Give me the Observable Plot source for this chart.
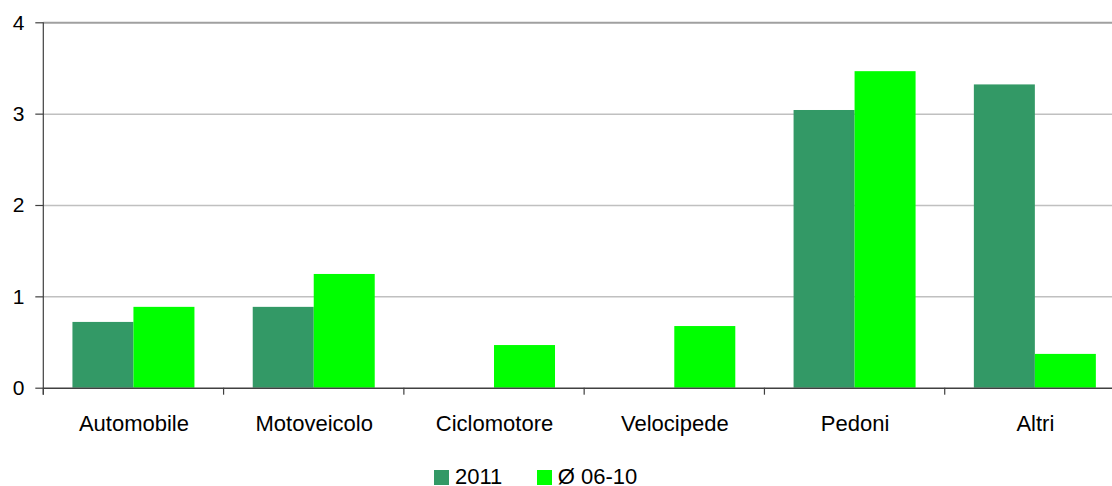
<!DOCTYPE html>
<html>
<head>
<meta charset="utf-8">
<script src="https://cdn.jsdelivr.net/npm/d3@7"></script>
<script src="https://cdn.jsdelivr.net/npm/@observablehq/plot@0.6"></script>
<style>
  html, body { margin: 0; padding: 0; background: #fff; overflow: hidden; }
  body { width: 1112px; height: 486px; font-family: "Liberation Sans", Arial, sans-serif; }
  #legend { position: relative; width: 1112px; height: 31px; }
  #legend .sw { position: absolute; top: 15px; width: 15px; height: 15px; }
  #legend .lb { position: absolute; top: 12.5px; font-size: 22px; line-height: 18px; color: #000; white-space: nowrap; }
</style>
</head>
<body>
<div id="chart"></div>
<div id="legend"></div>
<script>
const categories = ["Automobile", "Motoveicolo", "Ciclomotore", "Velocipede", "Pedoni", "Altri"];
const seriesNames = ["2011", "Ø 06-10"];
const values2011 = [0.72, 0.885, 0, 0, 3.04, 3.32];
const valuesAvg = [0.885, 1.245, 0.467, 0.675, 3.465, 0.37];
const yTicks = [0, 1, 2, 3, 4];
const colors = ["#339966", "#00ff00"];

const W = 1112, H = 455;
const mL = 43.3, mT = 22.3, mB = 67.3, plotRight = 1125;
const step = (plotRight - mL) / categories.length;
const barW = 61;
const outer = (step - 2 * barW) / 2;

const d2011 = categories.map((c, i) => ({cat: c, v: values2011[i]}));
const dAvg = categories.map((c, i) => ({cat: c, v: valuesAvg[i]}));

const plot = Plot.plot({
  width: W,
  height: H,
  marginLeft: mL,
  marginRight: W - plotRight,
  marginTop: mT,
  marginBottom: mB,
  style: {fontFamily: "'Liberation Sans', Arial, sans-serif", color: "#000", background: "#fff", overflow: "hidden"},
  x: {type: "band", domain: categories, padding: 0, round: false, axis: null, label: null},
  y: {domain: [0, 4], axis: null, label: null},
  marks: [
    Plot.ruleY([1, 2, 3], {stroke: "#c0c0c0", strokeWidth: 1.5}),
    Plot.ruleY([4], {stroke: "#a0a0a0", strokeWidth: 2}),
    Plot.barY(d2011, {x: "cat", y: "v", fill: colors[0], insetLeft: outer, insetRight: outer + barW}),
    Plot.barY(dAvg, {x: "cat", y: "v", fill: colors[1], insetLeft: outer + barW, insetRight: outer}),
    Plot.ruleY([0], {stroke: "#404040", strokeWidth: 1.5}),
    // category boundary ticks below the baseline
    Plot.barY(categories, {x: d => d, y1: 0, y2: 0, insetBottom: -7, insetLeft: -0.6, insetRight: step - 0.6, fill: "#404040"}),
    // vertical axis line
    Plot.barY([categories[0]], {x: d => d, y1: 0, y2: 4, insetBottom: -7, insetLeft: -0.6, insetRight: step - 0.6, fill: "#404040"}),
    Plot.axisY(yTicks, {tickSize: 8, tickPadding: 11.3, fontSize: 21, stroke: "#404040", strokeWidth: 1.2, fill: "#000", tickFormat: d3.format("d"), label: null}),
    Plot.axisX({tickSize: 0, tickPadding: 26.7, fontSize: 22, fill: "#000", label: null})
  ]
});
document.getElementById("chart").appendChild(plot);

const legend = document.getElementById("legend");
const legendPos = [434, 536.7];
seriesNames.forEach((name, i) => {
  const sw = document.createElement("div");
  sw.className = "sw";
  sw.style.left = legendPos[i] + "px";
  sw.style.background = colors[i];
  legend.appendChild(sw);
  const lb = document.createElement("div");
  lb.className = "lb";
  lb.style.left = (legendPos[i] + 21) + "px";
  lb.textContent = name;
  legend.appendChild(lb);
});
</script>
</body>
</html>
